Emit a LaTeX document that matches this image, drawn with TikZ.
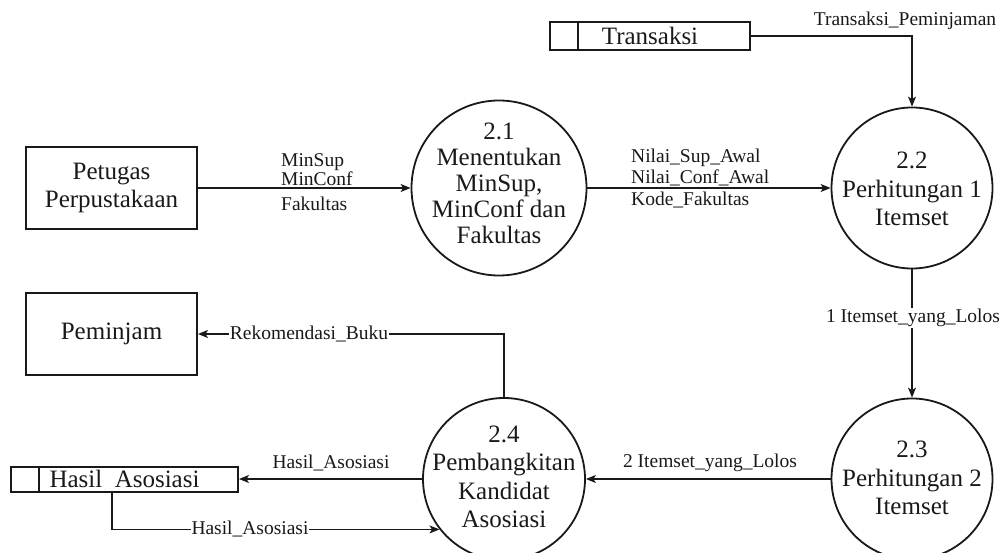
\documentclass[tikz,border=0pt]{standalone}
\usepackage{fontspec}
\setmainfont{Liberation Serif}
\usetikzlibrary{arrows.meta,calc}
\definecolor{ink}{RGB}{25,25,25}
\begin{document}
\begin{tikzpicture}[x=1pt,y=-1pt,
  ent/.style={draw=ink, line width=2pt, minimum width=171pt, minimum height=82pt, inner sep=0pt, align=center, font=\fontsize{25}{27.5}\selectfont, text=ink},
  proc/.style={draw=ink, circle, line width=1.8pt, inner sep=0pt},
  store/.style={draw=ink, line width=2pt, inner sep=0pt, font=\fontsize{25}{27.5}\selectfont, text=ink},
  ntext/.style={align=center, inner sep=0pt, text=ink},
  lab/.style={font=\fontsize{19.5}{21.5}\selectfont, inner sep=1pt, text=ink},
  flow/.style={draw=ink, line width=1.1pt, -{Stealth[length=10pt,width=8pt,inset=2.5pt]}},
]
\useasboundingbox (0,0) rectangle (1006,553);

% external entities
\node[ent] (pet) at (111.5,188) {Petugas\\Perpustakaan};
\node[ent] (pem) at (111.5,334) {Peminjam};

% processes
\node[proc, minimum size=175pt] (p21) at (499,188) {};
\node[ntext, font=\fontsize{25}{26}\selectfont] (t21) at (499,183) {2.1\\Menentukan\\MinSup,\\MinConf dan\\Fakultas};
\node[proc, minimum size=161pt] (p22) at (912,188) {};
\node[ntext, font=\fontsize{25}{28.5}\selectfont] (t22) at (912,189) {2.2\\Perhitungan 1\\Itemset};
\node[proc, minimum size=161pt] (p23) at (912,479) {};
\node[ntext, font=\fontsize{25}{28.5}\selectfont] (t23) at (912,478) {2.3\\Perhitungan 2\\Itemset};
\node[proc, minimum size=162pt] (p24) at (504,479) {};
\node[ntext, font=\fontsize{25}{28.5}\selectfont] (t24) at (504,477) {2.4\\Pembangkitan\\Kandidat\\Asosiasi};

% data stores
\node[store, minimum width=200pt, minimum height=28pt] (ts) at (650,36) {Transaksi};
\draw[draw=ink, line width=2pt] ($(ts.north west)+(29,0)$) -- ($(ts.south west)+(29,0)$);
\node[store, minimum width=227pt, minimum height=25pt] (ha) at (124.5,479) {Hasil~ Asosiasi};
\draw[draw=ink, line width=2pt] ($(ha.north west)+(29,0)$) -- ($(ha.south west)+(29,0)$);
\coordinate (hab) at ($(ha.south west)+(102,0)$);

% flows
\draw[flow] (pet) -- (p21);
\draw[flow] (p21) -- (p22);
\draw[flow] (ts.east) -| (p22.north);
\draw[flow] (p22) -- (p23);
\draw[flow] (p23) -- (p24);
\draw[flow] (p24) -- (ha);
\draw[flow] (hab) |- (p24.218);
\draw[flow] (p24.north) |- (pem.east);

% flow labels
\node[lab, anchor=west, align=left, font=\fontsize{19.5}{16}\selectfont] (l1) at (280,170) {MinSup\\MinConf};
\node[lab, anchor=west] (l2) at (280,204) {Fakultas};
\node[lab, anchor=west, align=left] (l3) at (630,178) {Nilai\_Sup\_Awal\\Nilai\_Conf\_Awal\\Kode\_Fakultas};
\node[lab] (l4) at (905,21) {Transaksi\_Peminjaman};
\node[lab, fill=white] (l5) at (913,318) {1 Itemset\_yang\_Lolos};
\node[lab] (l6) at (710,463) {2 Itemset\_yang\_Lolos};
\node[lab] (l7) at (331,463) {Hasil\_Asosiasi};
\node[lab, fill=white, inner sep=0.5pt] (l8) at (309,334) {Rekomendasi\_Buku};
\node[lab, fill=white, inner sep=0.5pt] (l9) at (250,529) {Hasil\_Asosiasi};
\end{tikzpicture}
\end{document}
